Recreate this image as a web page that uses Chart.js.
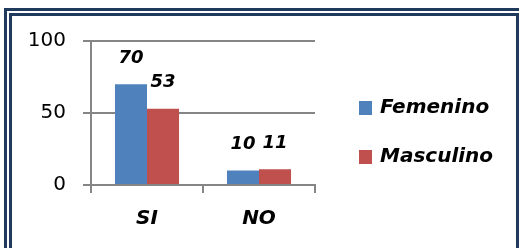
<!DOCTYPE html>
<html><head><meta charset="utf-8">
<script src="https://cdn.jsdelivr.net/npm/chart.js@4"></script>
<style>
html,body{margin:0;padding:0;background:#fff;overflow:hidden}
#wrap{position:relative;width:519px;height:248px;overflow:hidden}
#outer{position:absolute;left:4px;top:8px;width:600px;height:300px;border:3px solid #1F3A5C;box-sizing:border-box}
#inner{position:absolute;left:9px;top:13px;width:510px;height:300px;border:3px solid #1F3A5C;box-sizing:border-box}
canvas{position:absolute;left:0;top:0}
</style></head>
<body>
<div id="wrap">
<div id="outer"></div>
<div id="inner"></div>
<canvas id="c" width="519" height="248"></canvas>
</div>
<script>
const categories = ['SI', 'NO'];
const seriesNames = ['Femenino', 'Masculino'];
const femenino = [70, 10];
const masculino = [53, 11];
const yTicks = [0, 50, 100];
const seriesColors = ['#4F81BD', '#C0504D'];

const FONT = 'DejaVu Sans';

const labelsPlugin = {
  id: 'valueLabels',
  afterDatasetsDraw(chart) {
    const ctx = chart.ctx;
    ctx.save();
    ctx.font = 'italic bold 18px "' + FONT + '"';
    ctx.fillStyle = '#000';
    ctx.textAlign = 'center';
    ctx.textBaseline = 'middle';
    chart.data.datasets.forEach((ds, i) => {
      const meta = chart.getDatasetMeta(i);
      meta.data.forEach((el, j) => {
        ctx.fillText(String(ds.data[j]), el.x, el.y - 26);
      });
    });
    ctx.restore();
  }
};

const legendPlugin = {
  id: 'customLegend',
  afterDraw(chart) {
    const ctx = chart.ctx;
    ctx.save();
    ctx.font = 'italic bold 20px "' + FONT + '"';
    ctx.textBaseline = 'middle';
    ctx.textAlign = 'left';
    chart.data.datasets.forEach((ds, i) => {
      const cy = 108 + i * 49;
      ctx.fillStyle = ds.backgroundColor;
      ctx.fillRect(359, cy - 7, 13, 14);
      ctx.fillStyle = '#000';
      ctx.fillText(ds.label, 380, cy);
    });
    ctx.restore();
  }
};

new Chart(document.getElementById('c'), {
  type: 'bar',
  data: {
    labels: categories,
    datasets: [
      { label: seriesNames[0], data: femenino, backgroundColor: seriesColors[0], categoryPercentage: 0.572, barPercentage: 1 },
      { label: seriesNames[1], data: masculino, backgroundColor: seriesColors[1], categoryPercentage: 0.572, barPercentage: 1 }
    ]
  },
  options: {
    responsive: false,
    animation: false,
    layout: { padding: { left: 0, right: 204, top: 41, bottom: 0 } },
    plugins: { legend: { display: false }, tooltip: { enabled: false } },
    scales: {
      x: {
        grid: { drawOnChartArea: false, drawTicks: true, tickLength: 8, color: '#868686', lineWidth: 2, offset: true },
        border: { display: true, color: '#868686', width: 2 },
        ticks: { font: { family: FONT, size: 20, weight: 'bold', style: 'italic' }, color: '#000', padding: 14 },
        afterFit(s) { s.height = 63; }
      },
      y: {
        min: 0, max: 100,
        afterBuildTicks(s) { s.ticks = yTicks.map(v => ({ value: v })); },
        grid: { color: '#868686', lineWidth: 2, tickLength: 8 },
        border: { display: true, color: '#868686', width: 2 },
        ticks: { font: { family: FONT, size: 20 }, color: '#000', padding: 17 },
        afterFit(s) { s.width = 91; }
      }
    }
  },
  plugins: [labelsPlugin, legendPlugin]
});
</script>
</body></html>
